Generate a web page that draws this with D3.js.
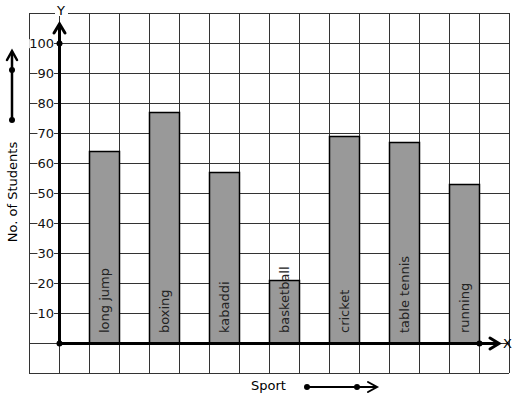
<!DOCTYPE html>
<html>
<head>
<meta charset="utf-8">
<script src="https://cdn.jsdelivr.net/npm/d3@7"></script>
<style>
  body { margin: 0; background: #fff; }
  svg { display: block; }
  text { font-family: "DejaVu Sans", sans-serif; }
</style>
</head>
<body>
<script>
// data
var sports = ["long jump", "boxing", "kabaddi", "basketball", "cricket", "table tennis", "running"];
var students = [64, 77, 57, 21, 69, 67, 53];
var yTicks = [10, 20, 30, 40, 50, 60, 70, 80, 90, 100];

var width = 517, height = 399;

var svg = d3.select("body").append("svg")
  .attr("width", width)
  .attr("height", height);

// scales - one grid cell = 30px = 10 students
var y = d3.scaleLinear().domain([0, 100]).range([343, 43]);
var gx = d3.scaleLinear().domain([-1, 15]).range([29, 509]);   // grid columns
var x = d3.scaleBand().domain(sports).range([89, 479]).paddingInner(0.5).paddingOuter(0);

// grid
var grid = svg.append("g").attr("stroke", "#333").attr("stroke-width", 1);
grid.selectAll(".v")
  .data(d3.range(-1, 16))
  .enter().append("line")
  .attr("x1", function(d) { return gx(d) + 0.5; })
  .attr("x2", function(d) { return gx(d) + 0.5; })
  .attr("y1", y(110)).attr("y2", y(-10));
grid.selectAll(".h")
  .data(d3.range(-10, 111, 10))
  .enter().append("line")
  .attr("y1", function(d) { return y(d) + 0.5; })
  .attr("y2", function(d) { return y(d) + 0.5; })
  .attr("x1", gx(-1)).attr("x2", gx(15));

// bars
svg.selectAll(".bar")
  .data(students)
  .enter().append("rect")
  .attr("x", function(d, i) { return x(sports[i]) + 0.5; })
  .attr("y", function(d) { return y(d) + 0.5; })
  .attr("width", x.bandwidth())
  .attr("height", function(d) { return y(0) - y(d); })
  .attr("fill", "#999")
  .attr("stroke", "#000")
  .attr("stroke-width", 1.5);

// bar labels, rotated
svg.selectAll(".blabel")
  .data(sports)
  .enter().append("text")
  .attr("transform", function(d) {
    return "translate(" + (x(d) + x.bandwidth() / 2 + 0.5) + "," + (y(0) - 10) + ") rotate(-90)";
  })
  .attr("dy", "0.35em")
  .attr("font-size", 13)
  .attr("fill", "#222")
  .text(function(d) { return d; });

// y tick labels with white background that cuts the grid line
var ticks = svg.selectAll(".tick")
  .data(yTicks)
  .enter().append("g")
  .attr("transform", function(d) { return "translate(54," + (y(d) + 0.5) + ")"; });
ticks.append("rect").attr("fill", "#fff");
ticks.append("text")
  .attr("text-anchor", "end")
  .attr("dy", "0.36em")
  .attr("font-size", 13)
  .attr("fill", "#111")
  .text(function(d) { return d; });
ticks.each(function() {
  var b = d3.select(this).select("text").node().getBBox();
  d3.select(this).select("rect")
    .attr("x", b.x).attr("y", b.y + 3).attr("width", b.width).attr("height", b.height - 6);
});

// axes (thick, with open arrow heads)
var axes = svg.append("g").attr("stroke", "#000").attr("fill", "none")
  .attr("stroke-width", 3).attr("stroke-linecap", "round");
axes.append("line").attr("x1", 59.5).attr("x2", 59.5).attr("y1", y(0) + 0.5).attr("y2", 26);
axes.append("path").attr("d", "M54,33 L59.5,24 L65,33");
axes.append("line").attr("x1", 59.5).attr("x2", 497).attr("y1", y(0) + 0.5).attr("y2", y(0) + 0.5);
axes.append("path").attr("d", "M490," + (y(0) - 5) + " L499," + (y(0) + 0.5) + " L490," + (y(0) + 6));

var dots = [[59.5, y(0) + 0.5], [59.5, y(100) + 0.5], [479.5, y(0) + 0.5]];
svg.selectAll(".dot")
  .data(dots)
  .enter().append("circle")
  .attr("cx", function(d) { return d[0]; })
  .attr("cy", function(d) { return d[1]; })
  .attr("r", 3)
  .attr("fill", "#000");

// axis letters
svg.append("rect").attr("x", 55).attr("y", 2).attr("width", 13).attr("height", 14).attr("fill", "#fff");
svg.append("text").attr("x", 61).attr("y", 15).attr("text-anchor", "middle")
  .attr("font-size", 13).text("Y");
svg.append("text").attr("x", 503).attr("y", y(0) + 0.5).attr("dy", "0.36em")
  .attr("font-size", 13).text("X");

// left side label and arrow
svg.append("text")
  .attr("transform", "translate(12,192) rotate(-90)")
  .attr("text-anchor", "middle")
  .attr("dy", "0.36em")
  .attr("font-size", 13)
  .text("No. of Students");
var la = svg.append("g").attr("stroke", "#000").attr("fill", "none")
  .attr("stroke-width", 2.5).attr("stroke-linecap", "round");
la.append("line").attr("x1", 12).attr("x2", 12).attr("y1", 120).attr("y2", 52);
la.append("path").attr("d", "M7,60 L12,51 L17,60");
svg.selectAll(".ldot")
  .data([70, 120])
  .enter().append("circle")
  .attr("cx", 12).attr("cy", function(d) { return d; }).attr("r", 3).attr("fill", "#000");

// bottom label and arrow
svg.append("text").attr("x", 251).attr("y", 390).attr("font-size", 13).text("Sport");
var ba = svg.append("g").attr("stroke", "#000").attr("fill", "none")
  .attr("stroke-width", 2).attr("stroke-linecap", "round");
ba.append("line").attr("x1", 307).attr("x2", 376).attr("y1", 387).attr("y2", 387);
ba.append("path").attr("d", "M368,382 L377,387 L368,392");
svg.selectAll(".bdot")
  .data([307, 357])
  .enter().append("circle")
  .attr("cx", function(d) { return d; }).attr("cy", 387).attr("r", 3).attr("fill", "#000");
</script>
</body>
</html>
